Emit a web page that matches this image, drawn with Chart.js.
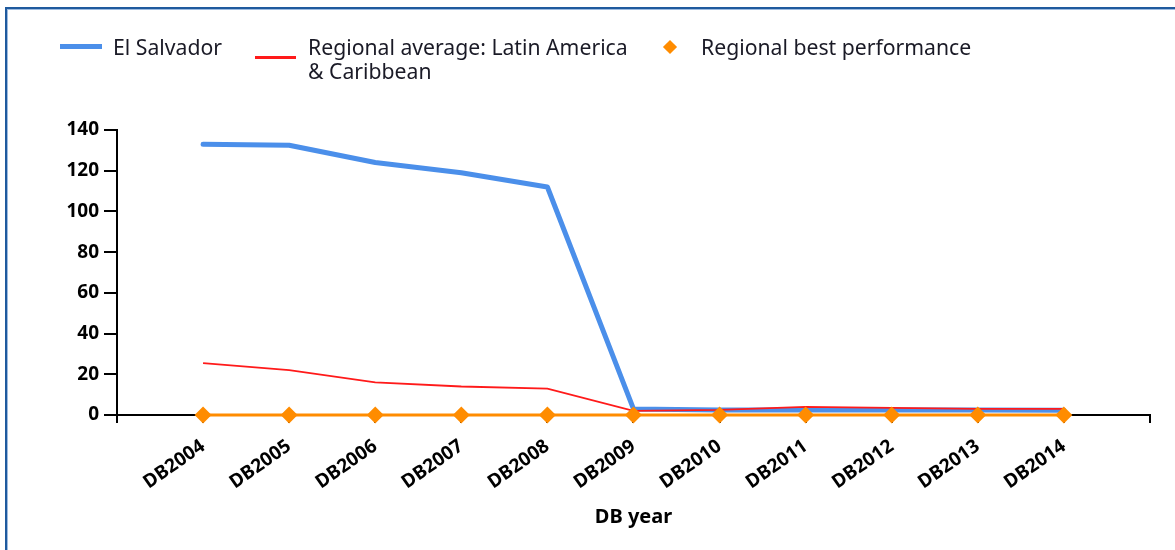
<!DOCTYPE html>
<html>
<head>
<meta charset="utf-8">
<script src="https://cdn.jsdelivr.net/npm/chart.js@4"></script>
<style>
    body { margin: 0; background: #fff; font-family: "Noto Sans", sans-serif; }
    #wrap { position: relative; width: 1175px; height: 550px; overflow: hidden; }
    #frame {
        position: absolute; left: 5px; top: 7px; width: 1300px; height: 700px;
        border: 2px solid #1f5a9e; box-shadow: inset 1px 1px 0 #9dbbe0;
    }
    canvas { position: absolute; left: 0; top: 0; }
    .leg { position: absolute; font-size: 21.2px; line-height: 24px; color: #1a1a26; white-space: nowrap; }
    .swatch { position: absolute; }
</style>
</head>
<body>
<div id="wrap">
    <div id="frame"></div>
    <canvas id="chart" width="1175" height="550"></canvas>

    <div class="swatch" style="left:60px; top:44px; width:42px; height:5px; background:#4b8fea;"></div>
    <div class="leg" style="left:113px; top:35px;">El Salvador</div>

    <div class="swatch" style="left:255px; top:56px; width:41px; height:3px; background:#ff1a1a;"></div>
    <div class="leg" style="left:308px; top:35px;">Regional average: Latin America<br>&amp; Caribbean</div>

    <div class="swatch" style="left:665px; top:42px; width:10px; height:10px; background:#ff8c00; transform:rotate(45deg);"></div>
    <div class="leg" style="left:701px; top:35px;">Regional best performance</div>
</div>

<script>
// DB years on the x axis
const years = [2004, 2005, 2006, 2007, 2008, 2009, 2010, 2011, 2012, 2013, 2014];

// series values
const elSalvador = [133, 132.5, 124, 119, 112, 3, 2.5, 2.5, 2.5, 2.5, 2.3];
const regionalAverage = [25.5, 22, 16, 14, 13, 2, 2.5, 4, 3.5, 3, 3];
const regionalBest = [0, 0, 0, 0, 0, 0, 0, 0, 0, 0, 0];

// y axis ticks
const yTicks = [0, 20, 40, 60, 80, 100, 120, 140];

function toPoints(values) {
    return values.map(function(v, i) {
        return { x: years[i], y: v };
    });
}

const tickFont = { family: 'Noto Sans', size: 19, weight: 'bold' };

new Chart(document.getElementById('chart'), {
    type: 'line',
    data: {
        datasets: [
            {
                label: 'Regional best performance',
                data: toPoints(regionalBest),
                borderColor: '#ff8c00',
                backgroundColor: '#ff8c00',
                borderWidth: 3,
                pointStyle: 'rectRot',
                pointRadius: 8.5,
                pointBorderWidth: 0,
                clip: false,
                order: 0
            },
            {
                label: 'Regional average: Latin America & Caribbean',
                data: toPoints(regionalAverage),
                borderColor: '#ff1a1a',
                borderWidth: 1.8,
                pointRadius: 0,
                order: 1
            },
            {
                label: 'El Salvador',
                data: toPoints(elSalvador),
                borderColor: '#4b8fea',
                borderWidth: 5,
                borderJoinStyle: 'round',
                borderCapStyle: 'round',
                pointRadius: 0,
                order: 2
            }
        ]
    },
    options: {
        responsive: false,
        animation: false,
        layout: { padding: { top: 130, right: 22, left: 0, bottom: 0 } },
        plugins: {
            legend: { display: false },
            tooltip: { enabled: false }
        },
        scales: {
            x: {
                type: 'linear',
                z: 1,
                min: years[0] - 1,
                max: years[years.length - 1] + 1,
                afterFit: function(scale) { scale.height = 135; },
                grid: { drawOnChartArea: false, drawTicks: true, tickLength: 8, color: '#000', lineWidth: 2 },
                border: { display: true, color: '#000', width: 2 },
                ticks: {
                    stepSize: 1,
                    autoSkip: false,
                    minRotation: 35,
                    maxRotation: 35,
                    color: '#000',
                    font: tickFont,
                    padding: 12,
                    callback: function(v) {
                        return (v >= years[0] && v <= years[years.length - 1]) ? 'DB' + v : '';
                    }
                },
                title: {
                    display: true,
                    text: 'DB year',
                    color: '#000',
                    font: { family: 'Noto Sans', size: 20, weight: 'bold' },
                    padding: { top: 0, bottom: 21 }
                }
            },
            y: {
                z: 1,
                min: yTicks[0],
                max: yTicks[yTicks.length - 1],
                afterFit: function(scale) { scale.width = 117; },
                afterBuildTicks: function(scale) {
                    scale.ticks = yTicks.map(function(v) { return { value: v }; });
                },
                grid: { drawOnChartArea: false, drawTicks: true, tickLength: 13, color: '#000', lineWidth: 2 },
                border: { display: true, color: '#000', width: 2 },
                ticks: {
                    color: '#000',
                    font: tickFont,
                    padding: 5
                }
            }
        }
    }
});
</script>
</body>
</html>
